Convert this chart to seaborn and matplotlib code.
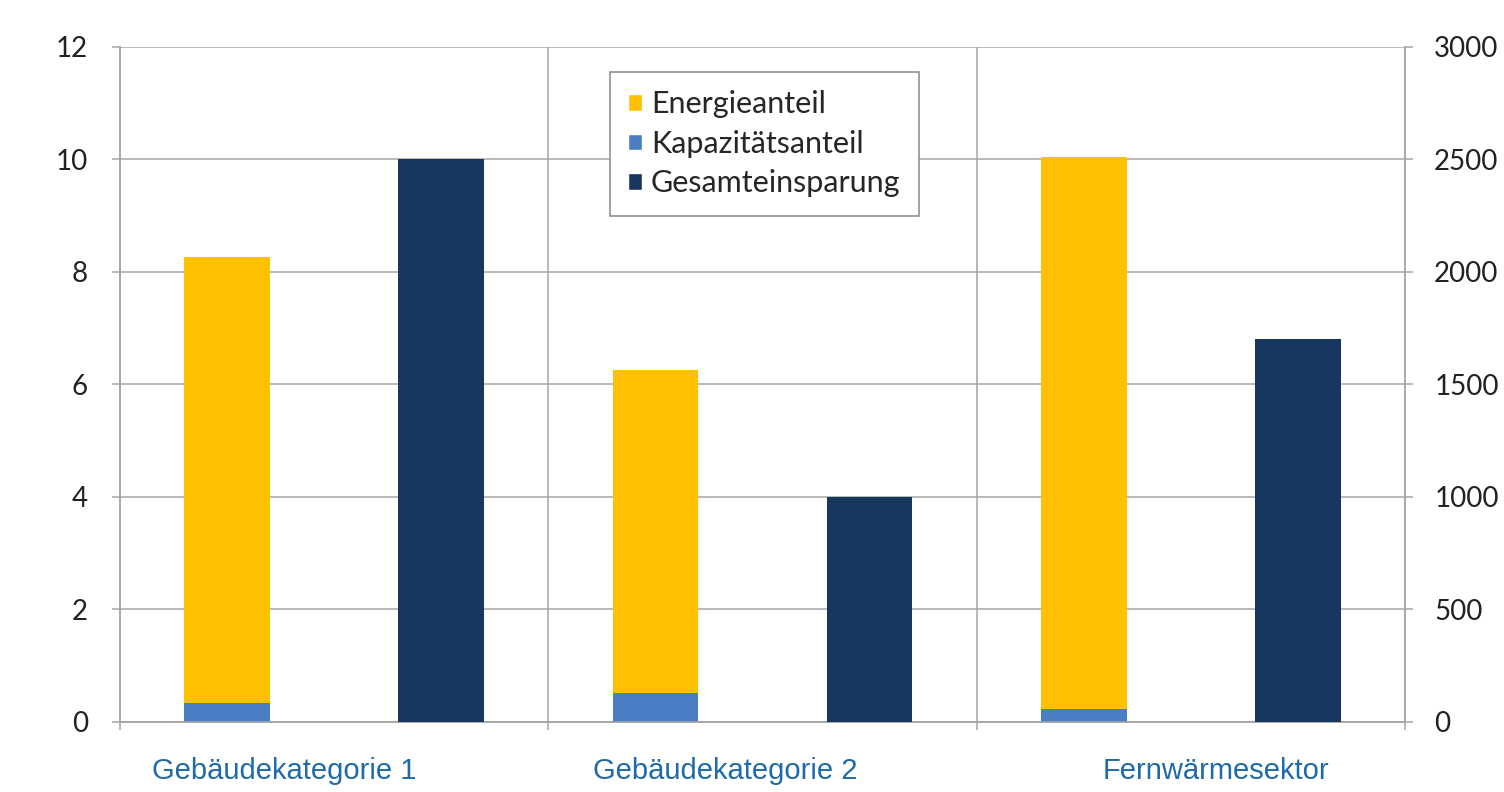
import pandas as pd
import seaborn as sns
import matplotlib.pyplot as plt
from matplotlib.patches import Patch

# Werte
kategorien = ["Gebäudekategorie 1", "Gebäudekategorie 2", "Fernwärmesektor"]
kapazitaetsanteil = [0.33, 0.52, 0.23]      # linke Achse
energieanteil = [7.94, 5.74, 9.82]          # linke Achse, auf Kapazitaet gestapelt
gesamteinsparung = [2500, 1000, 1700]       # rechte Achse

col_energie = "#FFC000"
col_kap = "#4A7EC4"
col_gesamt = "#17375E"
grid_col = "#a6a6a6"

sns.set_theme(style="white")
plt.rcParams["font.family"] = ["Lato", "DejaVu Sans"]

pos = list(range(len(kategorien)))
df = pd.DataFrame({
    "Kategorie": kategorien,
    "x_links": [p - 0.25 for p in pos],
    "x_rechts": [p + 0.25 for p in pos],
    "Kapazitaet": kapazitaetsanteil,
    "Summe": [k + e for k, e in zip(kapazitaetsanteil, energieanteil)],
    "Gesamt": gesamteinsparung,
})

fig = plt.figure(figsize=(15.04, 7.92), dpi=100)
ax = fig.add_axes([0.0798, 0.0884, 0.8544, 0.8523])
ax2 = ax.twinx()

ax.set_axisbelow(True)
for y in range(0, 13, 2):
    ax.axhline(y, color=grid_col, lw=1.1, zorder=0)
for xv in [0.5, 1.5]:
    ax.axvline(xv, color=grid_col, lw=1.1, zorder=0)

# gestapelte Säule: erst Summe (gelb), dann Kapazitaet (blau) darüber
sns.barplot(data=df, x="x_links", y="Summe", native_scale=True, width=0.2,
            color=col_energie, saturation=1, linewidth=0, ax=ax, zorder=2)
sns.barplot(data=df, x="x_links", y="Kapazitaet", native_scale=True, width=0.2,
            color=col_kap, saturation=1, linewidth=0, ax=ax, zorder=3)
sns.barplot(data=df, x="x_rechts", y="Gesamt", native_scale=True, width=0.2,
            color=col_gesamt, saturation=1, linewidth=0, ax=ax2, zorder=3)

for a in (ax, ax2):
    a.set_xlim(-0.5, 2.5)
    a.set_xlabel("")
    a.set_ylabel("")
    for s in a.spines.values():
        s.set_color(grid_col)
        s.set_linewidth(1.1)
    a.spines["top"].set_visible(False)

ax.set_ylim(0, 12)
ax.set_yticks(range(0, 13, 2))
ax2.set_ylim(0, 3000)
ax2.set_yticks(range(0, 3001, 500))

ax.set_xticks([-0.5, 0.5, 1.5, 2.5])
ax.set_xticklabels([])
ax.tick_params(axis="x", bottom=True, length=6, color=grid_col, width=1.1)
ax.tick_params(axis="y", left=True, length=6, color=grid_col, width=1.1,
               pad=17, labelsize=20, labelcolor="#222222")
ax2.tick_params(axis="y", right=True, length=6, color=grid_col, width=1.1,
                pad=15, labelsize=20, labelcolor="#222222")
ax2.tick_params(axis="x", bottom=False, labelbottom=False)

# Kategorienbeschriftung (leicht versetzt wie im Original)
label_x = [-0.117, 0.913, 2.059]
for xv, name in zip(label_x, kategorien):
    ax.text(xv, -0.072, name, transform=ax.get_xaxis_transform(), ha="center",
            va="center", fontsize=21, color="#1F6AA8",
            family=["Liberation Sans", "DejaVu Sans"])

handles = [Patch(facecolor=col_energie, label="Energieanteil"),
           Patch(facecolor=col_kap, label="Kapazitätsanteil"),
           Patch(facecolor=col_gesamt, label="Gesamteinsparung")]
leg = ax2.legend(handles=handles, loc="upper left", bbox_to_anchor=(0.381, 0.963),
                 borderaxespad=0, fontsize=22, frameon=True, fancybox=False,
                 framealpha=1, edgecolor="#888888", handlelength=0.45,
                 handleheight=0.45, handletextpad=0.3, borderpad=0.6,
                 labelspacing=0.38)
leg.get_frame().set_linewidth(1.1)

fig.savefig("out.png", dpi=100)
